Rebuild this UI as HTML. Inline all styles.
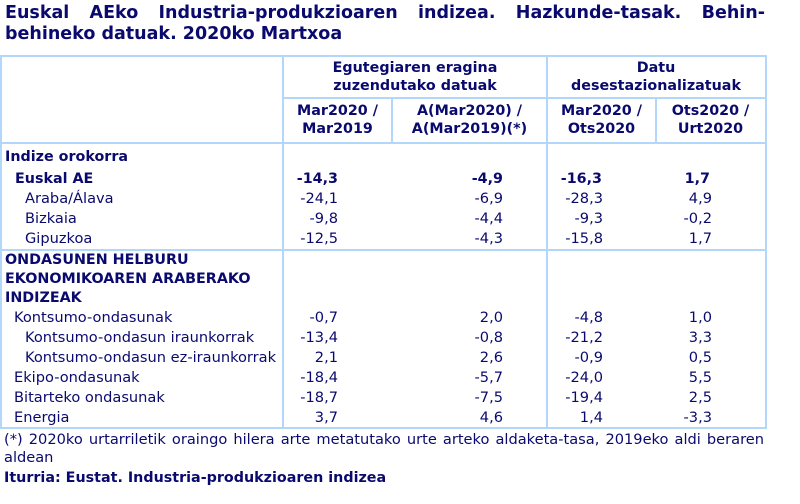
<!DOCTYPE html>
<html><head><meta charset="utf-8"><style>
body{margin:0;width:800px;height:504px;background:#fff;position:relative;overflow:hidden;font-family:"DejaVu Sans","Liberation Sans",sans-serif;color:#0a0a6e;font-size:14.6px}
.t{position:absolute;line-height:16px;white-space:nowrap}
.b{font-weight:bold;font-size:14.3px}
.r{text-align:right}
.c{text-align:center}
.h{position:absolute;height:2px;background:#b3d7fb}
.v{position:absolute;width:2px;background:#b3d7fb}
</style></head><body>
<div class="t b" style="left:5px;top:3px;width:760px;font-size:17.5px;line-height:20px;text-align:justify;text-align-last:justify">Euskal AEko Industria-produkzioaren indizea. Hazkunde-tasak. Behin-</div>
<div class="t b" style="left:5px;top:24px;font-size:17.5px;line-height:20px">behineko datuak. 2020ko Martxoa</div>

<div class="h" style="left:0;top:55px;width:767px"></div>
<div class="h" style="left:283px;top:97px;width:484px"></div>
<div class="h" style="left:0;top:142px;width:767px"></div>
<div class="h" style="left:0;top:249px;width:767px"></div>
<div class="h" style="left:0;top:427px;width:767px"></div>
<div class="v" style="left:0;top:55px;height:374px"></div>
<div class="v" style="left:282px;top:55px;height:374px"></div>
<div class="v" style="left:546px;top:55px;height:374px"></div>
<div class="v" style="left:765px;top:55px;height:374px"></div>
<div class="v" style="left:391px;top:97px;height:46px"></div>
<div class="v" style="left:655px;top:97px;height:46px"></div>

<div class="t b c" style="left:283px;width:264px;top:60px">Egutegiaren eragina</div>
<div class="t b c" style="left:283px;width:264px;top:78px">zuzendutako datuak</div>
<div class="t b c" style="left:547px;width:218px;top:60px">Datu</div>
<div class="t b c" style="left:547px;width:218px;top:78px">desestazionalizatuak</div>
<div class="t b c" style="left:283px;width:109px;top:103px">Mar2020 /</div>
<div class="t b c" style="left:283px;width:109px;top:121px">Mar2019</div>
<div class="t b c" style="left:392px;width:155px;top:103px">A(Mar2020) /</div>
<div class="t b c" style="left:392px;width:155px;top:121px">A(Mar2019)(*)</div>
<div class="t b c" style="left:547px;width:109px;top:103px">Mar2020 /</div>
<div class="t b c" style="left:547px;width:109px;top:121px">Ots2020</div>
<div class="t b c" style="left:656px;width:109px;top:103px">Ots2020 /</div>
<div class="t b c" style="left:656px;width:109px;top:121px">Urt2020</div>

<div class="t b" style="left:5px;top:149px">Indize orokorra</div>

<div class="t b" style="left:15px;top:171px">Euskal AE</div>
<div class="t b r" style="left:238px;width:100px;top:171px">-14,3</div>
<div class="t b r" style="left:403px;width:100px;top:171px">-4,9</div>
<div class="t b r" style="left:502px;width:100px;top:171px">-16,3</div>
<div class="t b r" style="left:610px;width:100px;top:171px">1,7</div>

<div class="t" style="left:25px;top:191px">Araba/Álava</div>
<div class="t r" style="left:238px;width:100px;top:191px">-24,1</div>
<div class="t r" style="left:403px;width:100px;top:191px">-6,9</div>
<div class="t r" style="left:503px;width:100px;top:191px">-28,3</div>
<div class="t r" style="left:612px;width:100px;top:191px">4,9</div>

<div class="t" style="left:25px;top:211px">Bizkaia</div>
<div class="t r" style="left:238px;width:100px;top:211px">-9,8</div>
<div class="t r" style="left:403px;width:100px;top:211px">-4,4</div>
<div class="t r" style="left:503px;width:100px;top:211px">-9,3</div>
<div class="t r" style="left:612px;width:100px;top:211px">-0,2</div>

<div class="t" style="left:25px;top:231px">Gipuzkoa</div>
<div class="t r" style="left:238px;width:100px;top:231px">-12,5</div>
<div class="t r" style="left:403px;width:100px;top:231px">-4,3</div>
<div class="t r" style="left:503px;width:100px;top:231px">-15,8</div>
<div class="t r" style="left:612px;width:100px;top:231px">1,7</div>

<div class="t b" style="left:5px;top:252px">ONDASUNEN HELBURU</div>
<div class="t b" style="left:5px;top:271px">EKONOMIKOAREN ARABERAKO</div>
<div class="t b" style="left:5px;top:290px">INDIZEAK</div>

<div class="t" style="left:14px;top:310px">Kontsumo-ondasunak</div>
<div class="t r" style="left:238px;width:100px;top:310px">-0,7</div>
<div class="t r" style="left:403px;width:100px;top:310px">2,0</div>
<div class="t r" style="left:503px;width:100px;top:310px">-4,8</div>
<div class="t r" style="left:612px;width:100px;top:310px">1,0</div>

<div class="t" style="left:25px;top:330px">Kontsumo-ondasun iraunkorrak</div>
<div class="t r" style="left:238px;width:100px;top:330px">-13,4</div>
<div class="t r" style="left:403px;width:100px;top:330px">-0,8</div>
<div class="t r" style="left:503px;width:100px;top:330px">-21,2</div>
<div class="t r" style="left:612px;width:100px;top:330px">3,3</div>

<div class="t" style="left:25px;top:350px">Kontsumo-ondasun ez-iraunkorrak</div>
<div class="t r" style="left:238px;width:100px;top:350px">2,1</div>
<div class="t r" style="left:403px;width:100px;top:350px">2,6</div>
<div class="t r" style="left:503px;width:100px;top:350px">-0,9</div>
<div class="t r" style="left:612px;width:100px;top:350px">0,5</div>

<div class="t" style="left:14px;top:370px">Ekipo-ondasunak</div>
<div class="t r" style="left:238px;width:100px;top:370px">-18,4</div>
<div class="t r" style="left:403px;width:100px;top:370px">-5,7</div>
<div class="t r" style="left:503px;width:100px;top:370px">-24,0</div>
<div class="t r" style="left:612px;width:100px;top:370px">5,5</div>

<div class="t" style="left:14px;top:390px">Bitarteko ondasunak</div>
<div class="t r" style="left:238px;width:100px;top:390px">-18,7</div>
<div class="t r" style="left:403px;width:100px;top:390px">-7,5</div>
<div class="t r" style="left:503px;width:100px;top:390px">-19,4</div>
<div class="t r" style="left:612px;width:100px;top:390px">2,5</div>

<div class="t" style="left:14px;top:410px">Energia</div>
<div class="t r" style="left:238px;width:100px;top:410px">3,7</div>
<div class="t r" style="left:403px;width:100px;top:410px">4,6</div>
<div class="t r" style="left:503px;width:100px;top:410px">1,4</div>
<div class="t r" style="left:612px;width:100px;top:410px">-3,3</div>

<div class="t" style="left:4px;top:432px;width:760px;text-align:justify;text-align-last:justify">(*) 2020ko urtarriletik oraingo hilera arte metatutako urte arteko aldaketa-tasa, 2019eko aldi beraren</div>
<div class="t" style="left:4px;top:450px">aldean</div>
<div class="t b" style="left:4px;top:470px">Iturria: Eustat. Industria-produkzioaren indizea</div>
</body></html>
